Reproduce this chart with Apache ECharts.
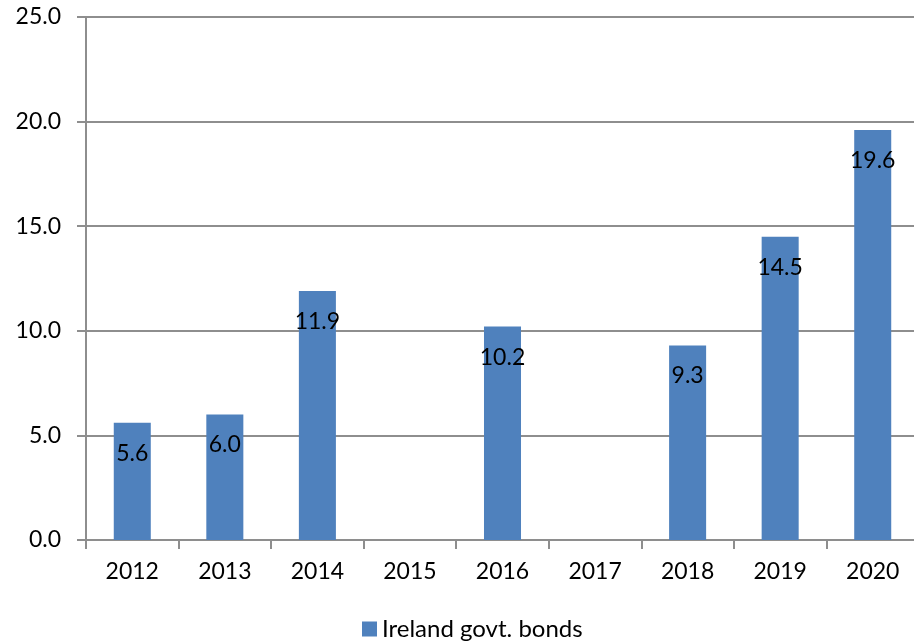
<!DOCTYPE html>
<html>
<head>
<meta charset="utf-8">
<script src="https://cdn.jsdelivr.net/npm/echarts@6/dist/echarts.min.js"></script>
<style>
  html, body { margin: 0; padding: 0; background: #fff; overflow: hidden; }
  /* plot area runs a few px past the right edge in the original */
  #chart { width: 919px; height: 643px; }
</style>
</head>
<body>
<div id="chart"></div>
<script>
// chart data
const years = ['2012', '2013', '2014', '2015', '2016', '2017', '2018', '2019', '2020']
const bondValues = [5.6, 6.0, 11.9, null, 10.2, null, 9.3, 14.5, 19.6]
const seriesName = 'Ireland govt. bonds'

const FONT = 'Lato'
const gridColor = '#8e8e8e'

const chart = echarts.init(document.getElementById('chart'))

chart.setOption({
  animation: false,
  textStyle: { fontFamily: FONT },
  grid: { left: 86, top: 17, right: 0, bottom: 103 },
  legend: {
    data: [seriesName],
    left: 362,
    top: 617,
    padding: 0,
    icon: 'rect',
    itemWidth: 15,
    itemHeight: 15,
    itemGap: 6,
    textStyle: { fontSize: 24, color: '#000', fontFamily: FONT }
  },
  xAxis: {
    type: 'category',
    data: years,
    boundaryGap: true,
    axisLine: { lineStyle: { color: gridColor, width: 2 } },
    axisTick: { show: true, length: 9, lineStyle: { color: gridColor, width: 2 } },
    axisLabel: { color: '#000', fontSize: 23, margin: 20 }
  },
  yAxis: {
    type: 'value',
    min: 0,
    max: 25,
    interval: 5,
    axisLine: { show: true, lineStyle: { color: gridColor, width: 2 } },
    axisTick: { show: true, length: 9, lineStyle: { color: gridColor, width: 2 } },
    splitLine: { lineStyle: { color: gridColor, width: 2 } },
    axisLabel: {
      color: '#000',
      fontSize: 23,
      margin: 25,
      formatter: v => v.toFixed(1)
    }
  },
  series: [
    {
      name: seriesName,
      type: 'bar',
      data: bondValues,
      barWidth: '40%',
      itemStyle: { color: '#4f81bd' },
      label: {
        show: true,
        position: 'insideTop',
        distance: 19,
        color: '#000',
        fontSize: 23,
        formatter: p => p.value == null ? '' : p.value.toFixed(1)
      }
    }
  ]
})
</script>
</body>
</html>
